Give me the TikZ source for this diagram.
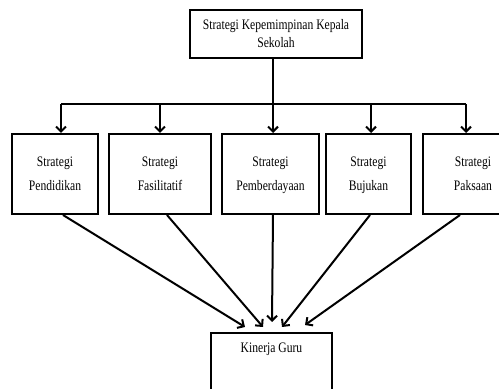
\documentclass[tikz,border=0pt]{standalone}
\usepackage{fontspec}
\setmainfont{Liberation Serif}[FakeStretch=0.8]
\usetikzlibrary{arrows.meta}

\begin{document}
\begin{tikzpicture}[x=1pt, y=1pt, line width=2pt,
    box/.style={draw, inner sep=0pt, align=center},
    arr/.style={-{Straight Barb[length=5pt, width=10pt]}}]
    \clip (0,0) rectangle (499,389);
    \node[box, minimum width=172, minimum height=48, font=\fontsize{14.5}{18}\selectfont] (top) at (276,355) {Strategi Kepemimpinan Kepala\\Sekolah};
    \foreach \n/\x/\w/\t in {b1/55/86/Pendidikan, b2/160/102/Fasilitatif, b3/270.5/97/Pemberdayaan, b4/368.5/85/Bujukan, b5/473/100/Paksaan}{
      \node[box, minimum width=\w, minimum height=80, font=\fontsize{14.5}{24}\selectfont] (\n) at (\x,215) {Strategi\strut\\\t\strut};
    }
    \node[box, anchor=north, minimum width=121, text height=20pt, text depth=60pt, font=\fontsize{14.5}{18}\selectfont] (guru) at (271.5,57) {Kinerja Guru};
    % bus
    \foreach \i/\x in {1/61, 2/160, 3/273, 4/371, 5/466}{
      \coordinate (d\i) at (\x,285);
      \draw[arr] (d\i) -- (d\i |- b\i.north);
    }
    \draw (top.south -| d3) -- (d3);
    \draw (d1) -- (d5);
    % to Kinerja Guru
    \foreach \n/\s/\ex/\ey in {b1/8/-26.5/5, b2/7/-8.5/5, b3/2.5/0.5/10, b4/1.5/10.5/5, b5/-13/33.5/7}{
      \draw[arr] ([xshift=\s]\n.south) -- ([shift={(\ex,\ey)}]guru.north);
    }
\end{tikzpicture}
\end{document}
